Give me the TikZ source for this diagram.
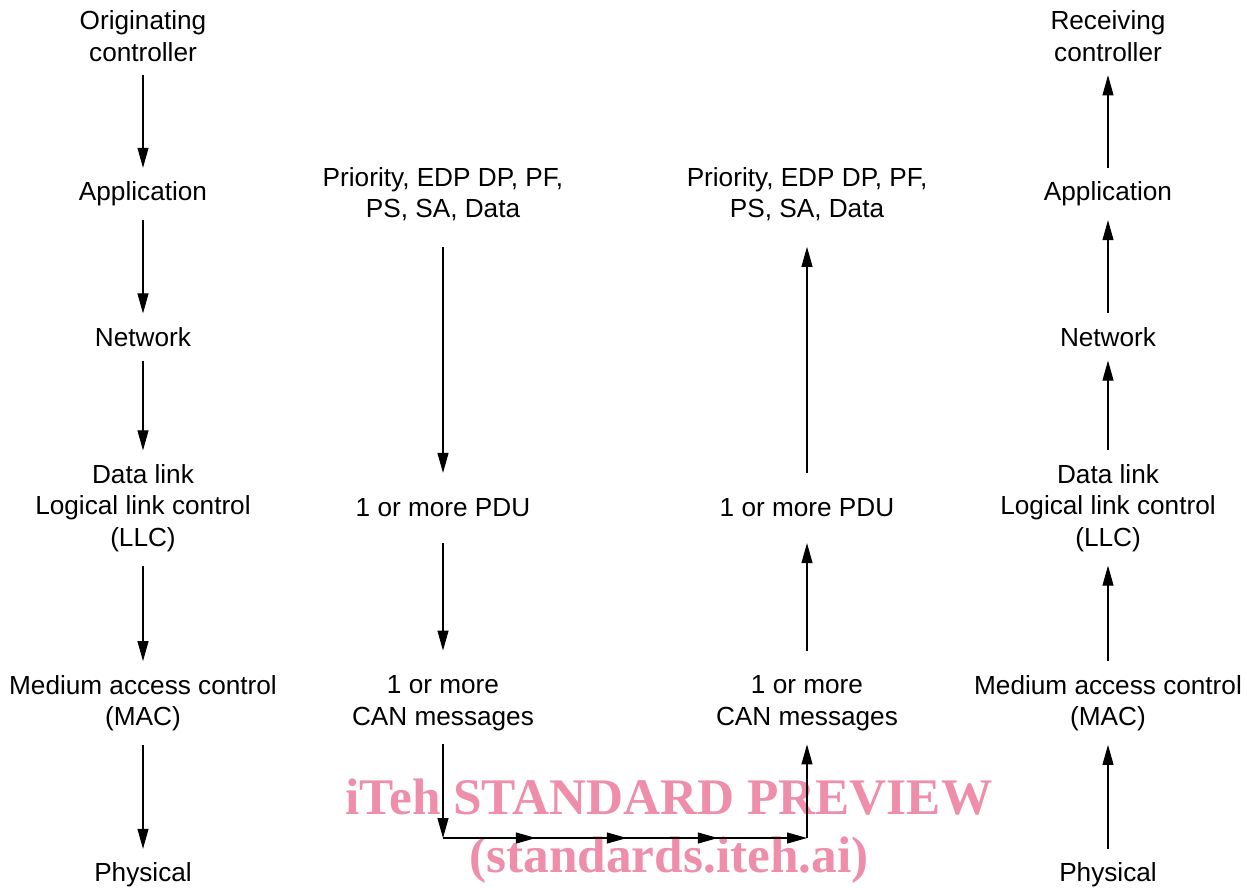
\documentclass[tikz,border=0pt]{standalone}
\usepackage{fontspec}
\setmainfont{Liberation Sans}
\newfontfamily\markfont{Liberation Serif}
\usetikzlibrary{arrows.meta,decorations.markings}
\definecolor{markpink}{RGB}{239,142,170}

\begin{document}
\begin{tikzpicture}[
    x=0.02cm, y=-0.02cm,
    >={Triangle[length=0.4cm, width=0.22cm]},
    every node/.style={align=center, inner sep=0pt, font=\fontsize{14.9}{17.9}\selectfont},
    layer/.style={outer sep=0.28cm},
    unit/.style={outer sep=0.52cm},
    flow/.style={draw, line width=0.6pt, ->},
    bus/.style={flow, postaction=decorate, decoration={markings,
        mark=at position 0.255 with {\arrow{>}},
        mark=at position 0.505 with {\arrow{>}},
        mark=at position 0.755 with {\arrow{>}}}}
]
\useasboundingbox (0,0) rectangle (1247,887);

% watermark
\node[font=\markfont\bfseries\fontsize{29.2}{33}\selectfont, text=markpink] (mark) at (669,831)
    {iTeh STANDARD PREVIEW\\(standards.iteh.ai)};

% originating controller
\node[layer] (orig) at (143,36) {Originating\\controller};
\node[layer] (app1) at (143,194) {Application};
\node[layer] (net1) at (143,337) {Network};
\node[layer] (llc1) at (143,508) {Data link\\Logical link control\\(LLC)};
\node[layer] (mac1) at (143,703) {Medium access control\\(MAC)};
\node[layer] (phy1) at (143,875) {Physical};

% sending side
\node[unit] (data2) at (443,194) {Priority, EDP DP, PF,\\PS, SA, Data};
\node[unit] (pdu2) at (443,508) {1 or more PDU};
\node[layer] (can2) at (443,703) {1 or more\\CAN messages};

% receiving side
\node[unit] (data3) at (807,194) {Priority, EDP DP, PF,\\PS, SA, Data};
\node[unit] (pdu3) at (807,508) {1 or more PDU};
\node[layer] (can3) at (807,703) {1 or more\\CAN messages};

% receiving controller
\node[layer] (recv) at (1108,36) {Receiving\\controller};
\node[layer] (app4) at (1108,194) {Application};
\node[layer] (net4) at (1108,337) {Network};
\node[layer] (llc4) at (1108,508) {Data link\\Logical link control\\(LLC)};
\node[layer] (mac4) at (1108,703) {Medium access control\\(MAC)};
\node[layer] (phy4) at (1108,875) {Physical};

\coordinate (busL) at (443,838);
\coordinate (busR) at (807,838);

\draw[flow] (orig) -- (app1);
\draw[flow] (app1) -- (net1);
\draw[flow] (net1) -- (llc1);
\draw[flow] (llc1) -- (mac1);
\draw[flow] (mac1) -- (phy1);

\draw[flow] (data2) -- (pdu2);
\draw[flow, shorten >=0.22cm] (pdu2) -- (can2);
\draw[flow] (can2) -- (busL);
\draw[bus] (busL) -- (busR);
\draw[flow] (busR) -- (can3);
\draw[flow, shorten <=0.22cm] (can3) -- (pdu3);
\draw[flow] (pdu3) -- (data3);

\draw[flow] (phy4) -- (mac4);
\draw[flow] (mac4) -- (llc4);
\draw[flow] (llc4) -- (net4);
\draw[flow] (net4) -- (app4);
\draw[flow] (app4) -- (recv);

\end{tikzpicture}
\end{document}
